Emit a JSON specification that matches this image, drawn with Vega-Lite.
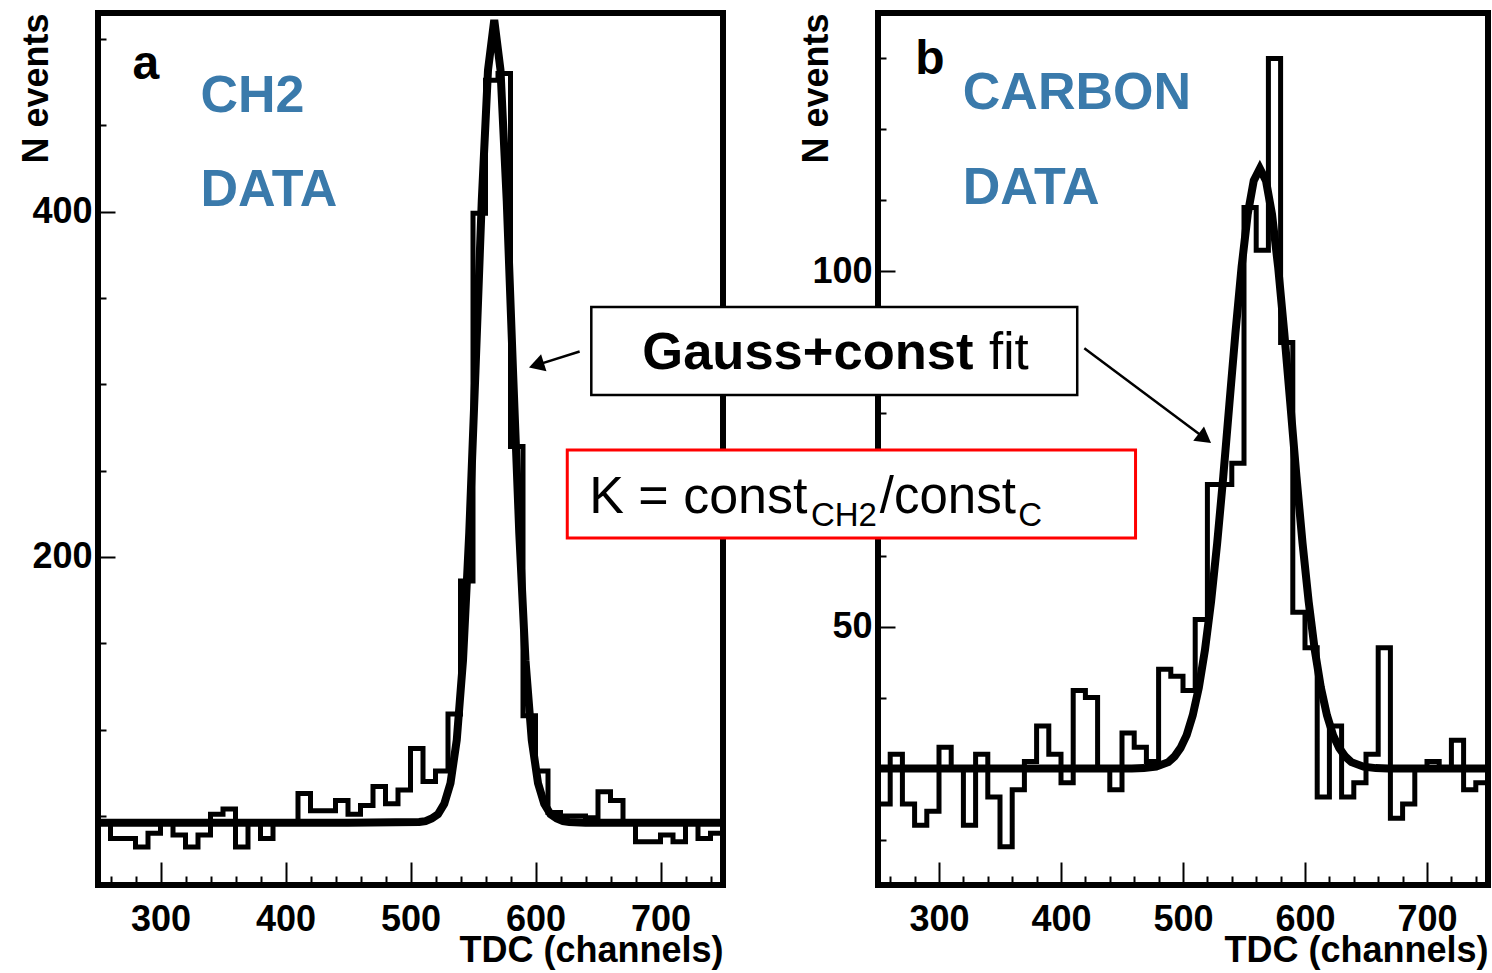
{
  "$schema": "https://vega.github.io/schema/vega-lite/v6.json",
  "background": "white",
  "padding": {"left": 15, "top": 0, "right": 0, "bottom": 0},
  "bounds": "flush",
  "spacing": 155,
  "config": {
    "view": {"stroke": "black", "strokeWidth": 6},
    "font": "Liberation Sans",
    "axis": {
      "grid": false, "domain": false, "tickColor": "black", "tickWidth": 2,
      "labelFont": "Liberation Sans", "labelFontWeight": "bold", "labelFontSize": 36, "labelColor": "black",
      "titleFont": "Liberation Sans", "titleFontWeight": "bold", "titleFontSize": 36, "titleColor": "black",
      "labelFlush": false, "labelOverlap": false
    }
  },
  "hconcat": [
    {
      "width": 625, "height": 872,
      "resolve": {"axis": {"x": "independent", "y": "independent"}},
      "layer": [
        {
          "data": {"values": [
            {"lo":250,"hi":260,"n":46},{"lo":260,"hi":270,"n":37},{"lo":270,"hi":280,"n":37},{"lo":280,"hi":290,"n":32},{"lo":290,"hi":300,"n":40},
            {"lo":300,"hi":310,"n":46},{"lo":310,"hi":320,"n":39},{"lo":320,"hi":330,"n":32},{"lo":330,"hi":340,"n":39},{"lo":340,"hi":350,"n":51},
            {"lo":350,"hi":360,"n":54},{"lo":360,"hi":370,"n":32},{"lo":370,"hi":380,"n":46},{"lo":380,"hi":390,"n":37},{"lo":390,"hi":400,"n":46},
            {"lo":400,"hi":410,"n":46},{"lo":410,"hi":420,"n":63},{"lo":420,"hi":430,"n":53},{"lo":430,"hi":440,"n":53},{"lo":440,"hi":450,"n":59},
            {"lo":450,"hi":460,"n":51},{"lo":460,"hi":470,"n":56},{"lo":470,"hi":480,"n":67},{"lo":480,"hi":490,"n":57},{"lo":490,"hi":500,"n":65},
            {"lo":500,"hi":510,"n":89},{"lo":510,"hi":520,"n":70},{"lo":520,"hi":530,"n":76},{"lo":530,"hi":540,"n":109},{"lo":540,"hi":550,"n":186},
            {"lo":550,"hi":560,"n":399},{"lo":560,"hi":570,"n":476},{"lo":570,"hi":580,"n":480},{"lo":580,"hi":590,"n":264},{"lo":590,"hi":600,"n":108},
            {"lo":600,"hi":610,"n":76},{"lo":610,"hi":620,"n":52},{"lo":620,"hi":630,"n":50},{"lo":630,"hi":640,"n":50},{"lo":640,"hi":650,"n":49},
            {"lo":650,"hi":660,"n":64},{"lo":660,"hi":670,"n":59},{"lo":670,"hi":680,"n":46},{"lo":680,"hi":690,"n":35},{"lo":690,"hi":700,"n":35},
            {"lo":700,"hi":710,"n":39},{"lo":710,"hi":720,"n":35},{"lo":720,"hi":730,"n":46},{"lo":730,"hi":740,"n":37},{"lo":740,"hi":750,"n":40}
          ]},
          "transform": [{"fold": ["lo", "hi"], "as": ["edge", "tdc"]}],
          "mark": {"type": "line", "color": "black", "strokeWidth": 5, "strokeJoin": "miter"},
          "encoding": {
            "x": {"field": "tdc", "type": "quantitative", "scale": {"domain": [250, 750], "nice": false, "zero": false},
                  "axis": {"orient": "bottom", "values": [300, 400, 500, 600, 700], "tickSize": -23, "labelPadding": 40,
                           "title": "TDC (channels)", "titleAnchor": "end", "titlePadding": -4}},
            "y": {"field": "n", "type": "quantitative", "scale": {"domain": [10, 515], "nice": false, "zero": false},
                  "axis": {"orient": "left", "values": [200, 400], "tickSize": -17, "labelPadding": 23,
                           "title": "N events", "titleAnchor": "end", "titlePadding": -24}},
            "order": [{"field": "tdc", "type": "quantitative"}, {"field": "edge", "type": "nominal"}]
          }
        },
        {
          "data": {"values": [
            {"tdc":250,"n":46},{"tdc":450,"n":46},{"tdc":507,"n":46.5},{"tdc":512,"n":47},{"tdc":517,"n":48.5},{"tdc":522,"n":51},
            {"tdc":527,"n":57},{"tdc":532,"n":69},{"tdc":537,"n":94},{"tdc":542,"n":140},{"tdc":547,"n":214},{"tdc":552,"n":308},
            {"tdc":557,"n":406},{"tdc":562,"n":482},{"tdc":567,"n":511},{"tdc":572,"n":482},{"tdc":577,"n":406},{"tdc":582,"n":308},
            {"tdc":587,"n":214},{"tdc":592,"n":140},{"tdc":597,"n":94},{"tdc":602,"n":69},{"tdc":607,"n":57},{"tdc":612,"n":51},
            {"tdc":617,"n":48.5},{"tdc":622,"n":47},{"tdc":627,"n":46.5},{"tdc":640,"n":46},{"tdc":750,"n":46}
          ]},
          "mark": {"type": "line", "color": "black", "strokeWidth": 8, "strokeJoin": "miter"},
          "encoding": {
            "x": {"field": "tdc", "type": "quantitative",
                  "axis": {"orient": "bottom", "values": [260,280,320,340,360,380,420,440,460,480,520,540,560,580,620,640,660,680,720,740],
                           "tickSize": -9, "labels": false, "title": null}},
            "y": {"field": "n", "type": "quantitative",
                  "axis": {"orient": "left", "values": [50,100,150,250,300,350,450,500], "tickSize": -8, "labels": false, "title": null}}
          }
        },
        {
          "data": {"values": [{}]},
          "mark": {"type": "text", "text": "a", "font": "Liberation Sans", "fontWeight": "bold", "fontSize": 48, "align": "left", "baseline": "alphabetic", "color": "black"},
          "encoding": {"x": {"datum": 277.6, "type": "quantitative", "axis": null}, "y": {"datum": 477, "type": "quantitative", "axis": null}}
        },
        {
          "data": {"values": [{}]},
          "mark": {"type": "text", "text": "CH2", "font": "Liberation Sans", "fontWeight": "bold", "fontSize": 52, "align": "left", "baseline": "alphabetic", "color": "#3A7AAB"},
          "encoding": {"x": {"datum": 332, "type": "quantitative", "axis": null}, "y": {"datum": 457.9, "type": "quantitative", "axis": null}}
        },
        {
          "data": {"values": [{}]},
          "mark": {"type": "text", "text": "DATA", "font": "Liberation Sans", "fontWeight": "bold", "fontSize": 52, "align": "left", "baseline": "alphabetic", "color": "#3A7AAB"},
          "encoding": {"x": {"datum": 332, "type": "quantitative", "axis": null}, "y": {"datum": 403.3, "type": "quantitative", "axis": null}}
        },
        {
          "data": {"values": [{}]},
          "mark": {"type": "rule", "color": "black", "strokeWidth": 2.5},
          "encoding": {"x": {"datum": 635.3, "type": "quantitative", "axis": null}, "y": {"datum": 319, "type": "quantitative", "axis": null},
                       "x2": {"datum": 600.7}, "y2": {"datum": 311.1}}
        },
        {
          "data": {"values": [{}]},
          "mark": {"type": "point", "shape": "triangle-right", "filled": true, "color": "black", "opacity": 1, "size": 320, "angle": 162.6},
          "encoding": {"x": {"datum": 600.7, "type": "quantitative", "axis": null}, "y": {"datum": 311.1, "type": "quantitative", "axis": null}}
        }
      ]
    },
    {
      "width": 610, "height": 872,
      "resolve": {"axis": {"x": "independent", "y": "independent"}},
      "layer": [
        {
          "data": {"values": [
            {"lo":250,"hi":260,"n":25},{"lo":260,"hi":270,"n":32},{"lo":270,"hi":280,"n":25},{"lo":280,"hi":290,"n":22},{"lo":290,"hi":300,"n":24},
            {"lo":300,"hi":310,"n":33},{"lo":310,"hi":320,"n":30},{"lo":320,"hi":330,"n":22},{"lo":330,"hi":340,"n":32},{"lo":340,"hi":350,"n":26},
            {"lo":350,"hi":360,"n":19},{"lo":360,"hi":370,"n":27},{"lo":370,"hi":380,"n":31},{"lo":380,"hi":390,"n":36},{"lo":390,"hi":400,"n":32},
            {"lo":400,"hi":410,"n":28},{"lo":410,"hi":420,"n":41},{"lo":420,"hi":430,"n":40},{"lo":430,"hi":440,"n":30},{"lo":440,"hi":450,"n":27},
            {"lo":450,"hi":460,"n":35},{"lo":460,"hi":470,"n":33},{"lo":470,"hi":480,"n":31},{"lo":480,"hi":490,"n":44},{"lo":490,"hi":500,"n":43},
            {"lo":500,"hi":510,"n":41},{"lo":510,"hi":520,"n":51},{"lo":520,"hi":530,"n":70},{"lo":530,"hi":540,"n":70},{"lo":540,"hi":550,"n":73},
            {"lo":550,"hi":560,"n":109},{"lo":560,"hi":570,"n":103},{"lo":570,"hi":580,"n":130},{"lo":580,"hi":590,"n":90},{"lo":590,"hi":600,"n":52},
            {"lo":600,"hi":610,"n":47},{"lo":610,"hi":620,"n":26},{"lo":620,"hi":630,"n":36},{"lo":630,"hi":640,"n":26},{"lo":640,"hi":650,"n":28},
            {"lo":650,"hi":660,"n":32},{"lo":660,"hi":670,"n":47},{"lo":670,"hi":680,"n":23},{"lo":680,"hi":690,"n":25},{"lo":690,"hi":700,"n":30},
            {"lo":700,"hi":710,"n":31},{"lo":710,"hi":720,"n":30},{"lo":720,"hi":730,"n":34},{"lo":730,"hi":740,"n":27},{"lo":740,"hi":750,"n":28}
          ]},
          "transform": [{"fold": ["lo", "hi"], "as": ["edge", "tdc"]}],
          "mark": {"type": "line", "color": "black", "strokeWidth": 5, "strokeJoin": "miter"},
          "encoding": {
            "x": {"field": "tdc", "type": "quantitative", "scale": {"domain": [250, 750], "nice": false, "zero": false},
                  "axis": {"orient": "bottom", "values": [300, 400, 500, 600, 700], "tickSize": -23, "labelPadding": 40,
                           "title": "TDC (channels)", "titleAnchor": "end", "titlePadding": -4}},
            "y": {"field": "n", "type": "quantitative", "scale": {"domain": [13.6, 136.4], "nice": false, "zero": false},
                  "axis": {"orient": "left", "values": [50, 100], "tickSize": -17, "labelPadding": 23,
                           "title": "N events", "titleAnchor": "end", "titlePadding": -24}},
            "order": [{"field": "tdc", "type": "quantitative"}, {"field": "edge", "type": "nominal"}]
          }
        },
        {
          "data": {"values": [
            {"tdc":250,"n":30},{"tdc":458,"n":30},{"tdc":468,"n":30.06},{"tdc":478,"n":30.26},{"tdc":488,"n":30.9},{"tdc":493,"n":31.7},
            {"tdc":498,"n":32.9},{"tdc":503,"n":34.7},{"tdc":508,"n":37.5},{"tdc":513,"n":41.4},{"tdc":518,"n":46.7},{"tdc":523,"n":53.5},
            {"tdc":528,"n":61.7},{"tdc":533,"n":71.1},{"tdc":538,"n":81.3},{"tdc":543,"n":91.4},{"tdc":548,"n":100.6},{"tdc":553,"n":108},
            {"tdc":558,"n":112.8},{"tdc":563,"n":114.5},{"tdc":568,"n":112.8},{"tdc":573,"n":108},{"tdc":578,"n":100.6},{"tdc":583,"n":91.4},
            {"tdc":588,"n":81.3},{"tdc":593,"n":71.1},{"tdc":598,"n":61.7},{"tdc":603,"n":53.5},{"tdc":608,"n":46.7},{"tdc":613,"n":41.4},
            {"tdc":618,"n":37.5},{"tdc":623,"n":34.7},{"tdc":628,"n":32.9},{"tdc":633,"n":31.7},{"tdc":638,"n":30.9},{"tdc":648,"n":30.26},
            {"tdc":658,"n":30.06},{"tdc":668,"n":30},{"tdc":750,"n":30}
          ]},
          "mark": {"type": "line", "color": "black", "strokeWidth": 8, "strokeJoin": "miter"},
          "encoding": {
            "x": {"field": "tdc", "type": "quantitative",
                  "axis": {"orient": "bottom", "values": [260,280,320,340,360,380,420,440,460,480,520,540,560,580,620,640,660,680,720,740],
                           "tickSize": -9, "labels": false, "title": null}},
            "y": {"field": "n", "type": "quantitative",
                  "axis": {"orient": "left", "values": [20,30,40,60,70,80,90,110,120,130], "tickSize": -8, "labels": false, "title": null}}
          }
        },
        {
          "data": {"values": [{}]},
          "mark": {"type": "text", "text": "b", "font": "Liberation Sans", "fontWeight": "bold", "fontSize": 48, "align": "left", "baseline": "alphabetic", "color": "black"},
          "encoding": {"x": {"datum": 280.5, "type": "quantitative", "axis": null}, "y": {"datum": 127.8, "type": "quantitative", "axis": null}}
        },
        {
          "data": {"values": [{}]},
          "mark": {"type": "text", "text": "CARBON", "font": "Liberation Sans", "fontWeight": "bold", "fontSize": 52, "align": "left", "baseline": "alphabetic", "color": "#3A7AAB"},
          "encoding": {"x": {"datum": 319.5, "type": "quantitative", "axis": null}, "y": {"datum": 122.9, "type": "quantitative", "axis": null}}
        },
        {
          "data": {"values": [{}]},
          "mark": {"type": "text", "text": "DATA", "font": "Liberation Sans", "fontWeight": "bold", "fontSize": 52, "align": "left", "baseline": "alphabetic", "color": "#3A7AAB"},
          "encoding": {"x": {"datum": 319.5, "type": "quantitative", "axis": null}, "y": {"datum": 109.5, "type": "quantitative", "axis": null}}
        },
        {
          "data": {"values": [{}]},
          "mark": {"type": "rect", "fill": "white", "stroke": "black", "strokeWidth": 2.5},
          "encoding": {"x": {"datum": 15, "type": "quantitative", "axis": null}, "x2": {"datum": 413.3},
                       "y": {"datum": 95, "type": "quantitative", "axis": null}, "y2": {"datum": 82.6}}
        },
        {
          "data": {"values": [{}]},
          "mark": {"type": "rect", "fill": "white", "stroke": "#FF0000", "strokeWidth": 3},
          "encoding": {"x": {"datum": -4.7, "type": "quantitative", "axis": null}, "x2": {"datum": 461.1},
                       "y": {"datum": 74.86, "type": "quantitative", "axis": null}, "y2": {"datum": 62.46}}
        },
        {
          "data": {"values": [{}]},
          "mark": {"type": "text", "text": "Gauss+const", "font": "Liberation Sans", "fontWeight": "bold", "fontSize": 52.5, "align": "left", "baseline": "alphabetic", "color": "black"},
          "encoding": {"x": {"datum": 56.8, "type": "quantitative", "axis": null}, "y": {"datum": 86.3, "type": "quantitative", "axis": null}}
        },
        {
          "data": {"values": [{}]},
          "mark": {"type": "text", "text": "fit", "font": "Liberation Sans", "fontSize": 51, "align": "left", "baseline": "alphabetic", "color": "black"},
          "encoding": {"x": {"datum": 341, "type": "quantitative", "axis": null}, "y": {"datum": 86.3, "type": "quantitative", "axis": null}}
        },
        {
          "data": {"values": [{}]},
          "mark": {"type": "text", "text": "K = const", "font": "Liberation Sans", "fontSize": 52, "align": "left", "baseline": "alphabetic", "color": "black"},
          "encoding": {"x": {"datum": 13.3, "type": "quantitative", "axis": null}, "y": {"datum": 66.0, "type": "quantitative", "axis": null}}
        },
        {
          "data": {"values": [{}]},
          "mark": {"type": "text", "text": "CH2", "font": "Liberation Sans", "fontSize": 33, "align": "left", "baseline": "alphabetic", "color": "black"},
          "encoding": {"x": {"datum": 195, "type": "quantitative", "axis": null}, "y": {"datum": 64.2, "type": "quantitative", "axis": null}}
        },
        {
          "data": {"values": [{}]},
          "mark": {"type": "text", "text": "/const", "font": "Liberation Sans", "fontSize": 51, "align": "left", "baseline": "alphabetic", "color": "black"},
          "encoding": {"x": {"datum": 251.5, "type": "quantitative", "axis": null}, "y": {"datum": 66.0, "type": "quantitative", "axis": null}}
        },
        {
          "data": {"values": [{}]},
          "mark": {"type": "text", "text": "C", "font": "Liberation Sans", "fontSize": 33, "align": "left", "baseline": "alphabetic", "color": "black"},
          "encoding": {"x": {"datum": 365, "type": "quantitative", "axis": null}, "y": {"datum": 64.2, "type": "quantitative", "axis": null}}
        },
        {
          "data": {"values": [{}]},
          "mark": {"type": "rule", "color": "black", "strokeWidth": 2.5},
          "encoding": {"x": {"datum": 419.1, "type": "quantitative", "axis": null}, "y": {"datum": 89.2, "type": "quantitative", "axis": null},
                       "x2": {"datum": 517.9}, "y2": {"datum": 76.5}}
        },
        {
          "data": {"values": [{}]},
          "mark": {"type": "point", "shape": "triangle-right", "filled": true, "color": "black", "opacity": 1, "size": 320, "angle": 36.8},
          "encoding": {"x": {"datum": 517.9, "type": "quantitative", "axis": null}, "y": {"datum": 76.5, "type": "quantitative", "axis": null}}
        }
      ]
    }
  ]
}
